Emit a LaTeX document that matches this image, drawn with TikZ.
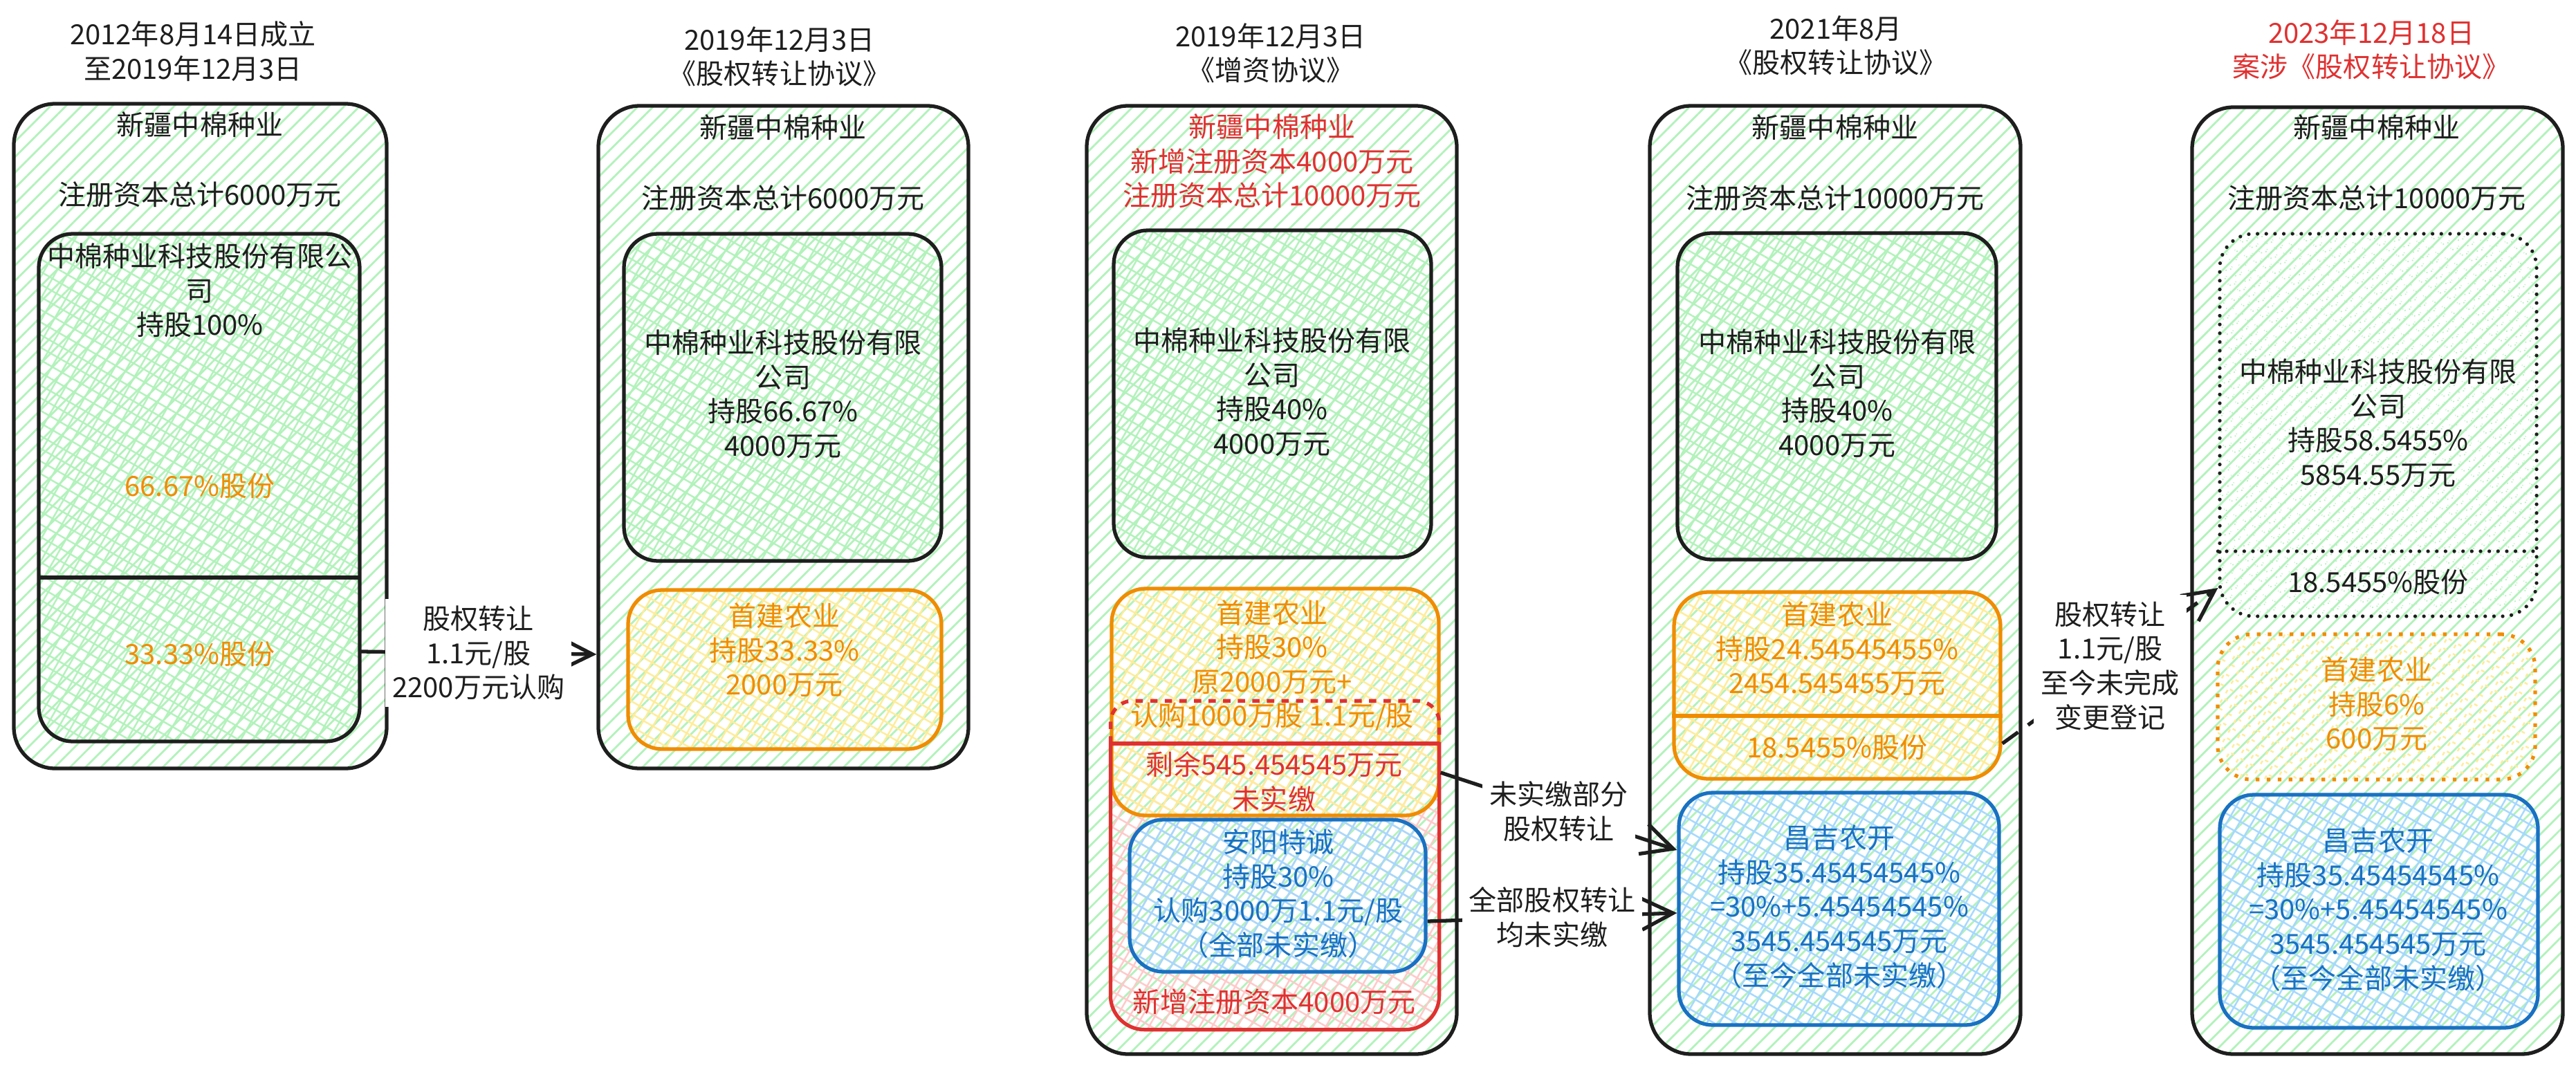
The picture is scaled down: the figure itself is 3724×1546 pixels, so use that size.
\documentclass[tikz,border=0pt]{standalone}
\usepackage{fontspec}
\setmainfont{Noto Sans CJK SC}
\usetikzlibrary{fit,patterns.meta,arrows.meta}

\definecolor{ink}{HTML}{1E1E1E}
\definecolor{hatchgreen}{HTML}{B2F2BB}
\definecolor{sjorange}{HTML}{F08C00}
\definecolor{sjyellow}{HTML}{FFEC99}
\definecolor{redline}{HTML}{E03131}
\definecolor{redpink}{HTML}{FFC9C9}
\definecolor{cjblue}{HTML}{1971C2}
\definecolor{cjsky}{HTML}{A5D8FF}

\begin{document}
\begin{tikzpicture}[x=0.1mm, y=-0.1mm,
	font=\fontsize{11.4pt}{14.1pt}\selectfont,
	outerbox/.style={draw=ink, line width=1.5pt, rounded corners=17pt, inner sep=0pt,
		pattern={Lines[angle=45,distance=4.5pt,line width=0.8pt]}, pattern color=hatchgreen},
	crossbox/.style={line width=1.5pt, rounded corners=14pt, inner sep=0pt,
		pattern={Hatch[angle=60,distance=4.5pt,line width=0.7pt]}},
	greenin/.style={crossbox, draw=ink, pattern color=hatchgreen},
	sjbox/.style={crossbox, draw=sjorange, pattern color=sjyellow},
	cjbox/.style={crossbox, draw=cjblue, pattern color=cjsky},
	dotline/.style={dash pattern=on 0pt off 3.6pt, line cap=round},
	txt/.style={align=center, inner sep=0pt, text=ink},
	otxt/.style={txt, text=sjorange},
	rtxt/.style={txt, text=redline},
	btxt/.style={txt, text=cjblue},
	lab/.style={txt, fill=white, inner sep=1mm},
	arr/.style={draw=ink, line width=1.5pt, -{Straight Barb[length=4.5mm,width=4.5mm]}}]
	\useasboundingbox (0,0) rectangle (3724,1546);

	% titles
	\node[txt] (t1) at (279,74) {2012年8月14日成立\\至2019年12月3日};
	\node[txt] (t2) at (1127,82) {2019年12月3日\\《股权转让协议》};
	\node[txt] (t3) at (1837,77) {2019年12月3日\\《增资协议》};
	\node[txt] (t4) at (2654,66) {2021年8月\\《股权转让协议》};
	\node[rtxt] (t5) at (3428,72) {2023年12月18日\\案涉《股权转让协议》};

	% column 1
	\node[outerbox, fit={(20,150) (559,1111)}] (c1) {};
	\node[txt] (c1name) at (289,180) {新疆中棉种业};
	\node[txt] (c1cap) at (289,281) {注册资本总计6000万元};
	\node[greenin, fit={(56,338) (520,1072)}] (c1in) {};
	\node[txt] (c1zm) at (289,420) {中棉种业科技股份有限公\\司\\持股100\%};
	\node[otxt] (c1a) at (289,702) {66.67\%股份};
	\coordinate (c1cut) at (0,835);
	\draw[ink, line width=1.5pt] (c1in.west |- c1cut) -- (c1in.east |- c1cut);
	\node[otxt] (c1b) at (289,945) {33.33\%股份};

	% column 2
	\node[outerbox, fit={(865,153) (1400,1111)}] (c2) {};
	\node[txt] (c2name) at (1132,184) {新疆中棉种业};
	\node[txt] (c2cap) at (1132,286) {注册资本总计6000万元};
	\node[greenin, fit={(902,338) (1361,811)}] (c2in) {};
	\node[txt] (c2zm) at (1132,570) {中棉种业科技股份有限\\公司\\持股66.67\%\\4000万元};
	\node[sjbox, fit={(908,853) (1361,1083)}] (c2sj) {};
	\node[otxt] (c2sjt) at (1134,940) {首建农业\\持股33.33\%\\2000万元};

	% column 3
	\node[outerbox, fit={(1571,153) (2106,1524)}] (c3) {};
	\node[rtxt] (c3name) at (1839,233) {新疆中棉种业\\新增注册资本4000万元\\注册资本总计10000万元};
	\node[greenin, fit={(1610,333) (2069,806)}] (c3in) {};
	\node[txt] (c3zm) at (1839,567) {中棉种业科技股份有限\\公司\\持股40\%\\4000万元};
	\node[crossbox, pattern color=redpink, fit={(1608,1016) (2078,1486)}] (c3red) {};
	\node[sjbox, fit={(1607,851) (2080,1179)}] (c3sj) {};
	\node[otxt] (c3sjt) at (1839,962) {首建农业\\持股30\%\\原2000万元+\\认购1000万股 1.1元/股};
	\coordinate (c3cut) at (0,1075);
	\draw[redline, line width=1.5pt, rounded corners=14pt] (c3red.west |- c3cut) -- (c3red.south west) -- (c3red.south east) -- (c3red.east |- c3cut);
	\draw[redline, line width=1.5pt, dashed, rounded corners=9pt] (c3red.west |- c3cut) -- (c3red.north west) -- (c3red.north east) -- (c3red.east |- c3cut);
	\draw[redline, line width=1.7pt] (c3red.west |- c3cut) -- (c3red.east |- c3cut);
	\node[rtxt] (c3rest) at (1842,1130) {剩余545.454545万元\\未实缴};
	\node[cjbox, fit={(1633,1185) (2061,1405)}] (c3ay) {};
	\node[btxt] (c3ayt) at (1848,1292) {安阳特诚\\持股30\%\\认购3000万1.1元/股\\（全部未实缴）};
	\node[rtxt] (c3new) at (1842,1448) {新增注册资本4000万元};

	% column 4
	\node[outerbox, fit={(2385,153) (2921,1524)}] (c4) {};
	\node[txt] (c4name) at (2653,184) {新疆中棉种业};
	\node[txt] (c4cap) at (2653,286) {注册资本总计10000万元};
	\node[greenin, fit={(2425,337) (2886,809)}] (c4in) {};
	\node[txt] (c4zm) at (2656,569) {中棉种业科技股份有限\\公司\\持股40\%\\4000万元};
	\node[sjbox, fit={(2420,856) (2892,1126)}] (c4sj) {};
	\node[otxt] (c4sjt) at (2656,938) {首建农业\\持股24.54545455\%\\2454.545455万元};
	\coordinate (c4cut) at (0,1035);
	\draw[sjorange, line width=1.5pt] (c4sj.west |- c4cut) -- (c4sj.east |- c4cut);
	\node[otxt] (c4b) at (2656,1080) {18.5455\%股份};
	\node[cjbox, fit={(2427,1146) (2890,1482)}] (c4cj) {};
	\node[btxt] (c4cjt) at (2659,1311) {昌吉农开\\持股35.45454545\%\\=30\%+5.45454545\%\\3545.454545万元\\（至今全部未实缴）};

	% column 5
	\node[outerbox, fit={(3169,155) (3705,1524)}] (c5) {};
	\node[txt] (c5name) at (3436,184) {新疆中棉种业};
	\node[txt] (c5cap) at (3436,286) {注册资本总计10000万元};
	\node[greenin, dotline, fit={(3209,338) (3667,891)}] (c5in) {};
	\node[txt] (c5zm) at (3438,612) {中棉种业科技股份有限\\公司\\持股58.5455\%\\5854.55万元};
	\coordinate (c5cut) at (0,797);
	\draw[ink, line width=1.5pt, dotline] (c5in.west |- c5cut) -- (c5in.east |- c5cut);
	\node[txt] (c5b) at (3438,841) {18.5455\%股份};
	\node[sjbox, dash pattern=on 1.5pt off 3pt, fit={(3206,917) (3665,1127)}] (c5sj) {};
	\node[otxt] (c5sjt) at (3436,1018) {首建农业\\持股6\%\\600万元};
	\node[cjbox, fit={(3209,1149) (3669,1486)}] (c5cj) {};
	\node[btxt] (c5cjt) at (3438,1315) {昌吉农开\\持股35.45454545\%\\=30\%+5.45454545\%\\3545.454545万元\\（至今全部未实缴）};

	% transfers
	\draw[arr] (c1in.east |- 0,942) -- node[lab] (a1) {股权转让\\1.1元/股\\2200万元认购} (c2.west |- 0,946);
	\draw[arr] (c3sj.east |- 0,1117) -- node[lab] (a2) {未实缴部分\\股权转让} (c4cj.west |- 0,1229);
	\draw[arr] (c3ay.east |- 0,1332) -- node[lab] (a3) {全部股权转让\\均未实缴} (c4cj.west |- 0,1320);
	\draw[arr, dash pattern=on 8pt off 5pt] (c4sj.east |- 0,1075) -- node[lab] (a4) {股权转让\\1.1元/股\\至今未完成\\变更登记} (c5in.west |- 0,850);
\end{tikzpicture}
\end{document}
